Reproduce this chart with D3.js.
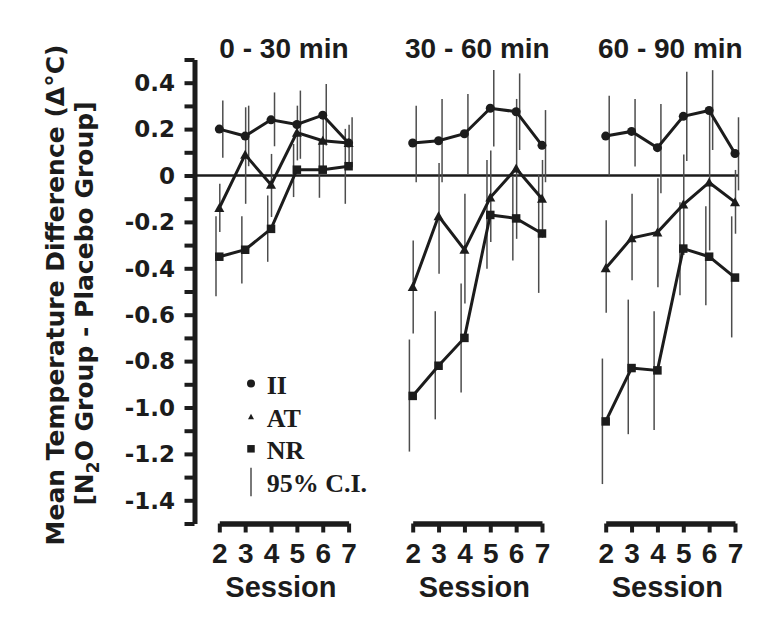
<!DOCTYPE html>
<html>
<head>
<meta charset="utf-8">
<script src="https://cdn.jsdelivr.net/npm/d3@7"></script>
<style>
  html, body { margin: 0; padding: 0; background: #fff; }
  svg { display: block; }
</style>
</head>
<body>
<svg id="chart" width="771" height="621"></svg>
<script>
// ---------------- DATA ----------------
const sessions = [2, 3, 4, 5, 6, 7];
const periods = ["0 - 30 min", "30 - 60 min", "60 - 90 min"];
const yTickValues = [0.4, 0.2, 0, -0.2, -0.4, -0.6, -0.8, -1.0, -1.2, -1.4];
const yTickLabels = ["0.4", "0.2", "0", "-0.2", "-0.4", "-0.6", "-0.8", "-1.0", "-1.2", "-1.4"];
const legendLabels = ["II", "AT", "NR", "95% C.I."];

// Means per period (rows) and session (columns)
const iiMean = [
  [0.20, 0.17, 0.24, 0.22, 0.26, 0.14],
  [0.14, 0.15, 0.18, 0.29, 0.275, 0.13],
  [0.17, 0.19, 0.12, 0.255, 0.28, 0.095]
];
const iiLow = [
  [0.076, 0.04, 0.126, 0.072, 0.129, 0.036],
  [-0.029, -0.029, 0.007, 0.125, 0.11, -0.029],
  [0.0, 0.039, -0.076, 0.062, 0.11, -0.064]
];
const iiHigh = [
  [0.323, 0.301, 0.358, 0.366, 0.394, 0.251],
  [0.301, 0.33, 0.351, 0.455, 0.44, 0.282],
  [0.344, 0.33, 0.308, 0.447, 0.454, 0.251]
];

const atMean = [
  [-0.14, 0.09, -0.04, 0.185, 0.15, 0.14],
  [-0.48, -0.175, -0.32, -0.095, 0.03, -0.10],
  [-0.40, -0.27, -0.245, -0.125, -0.03, -0.115]
];
const atLow = [
  [-0.243, -0.122, -0.179, 0.065, 0.036, 0.057],
  [-0.681, -0.423, -0.552, -0.287, -0.273, -0.268],
  [-0.592, -0.452, -0.482, -0.343, -0.323, -0.251]
];
const atHigh = [
  [-0.036, 0.294, 0.093, 0.301, 0.265, 0.219],
  [-0.280, 0.054, -0.079, 0.108, 0.330, 0.067],
  [-0.193, -0.079, -0.012, 0.090, 0.265, 0.024]
];

const nrMean = [
  [-0.35, -0.32, -0.23, 0.025, 0.025, 0.04],
  [-0.95, -0.82, -0.70, -0.17, -0.185, -0.25],
  [-1.06, -0.83, -0.84, -0.315, -0.35, -0.44]
];
const nrLow = [
  [-0.520, -0.466, -0.372, -0.093, -0.096, -0.122],
  [-1.190, -1.051, -0.935, -0.402, -0.366, -0.506],
  [-1.330, -1.115, -1.097, -0.516, -0.559, -0.698]
];
const nrHigh = [
  [-0.176, -0.176, -0.086, 0.136, 0.150, 0.201],
  [-0.707, -0.585, -0.466, 0.067, -0.007, 0.004],
  [-0.789, -0.535, -0.585, -0.115, -0.133, -0.176]
];

// ---------------- LAYOUT / STYLE ----------------
const panelLeft = [219.3, 412.7, 605.7];
const panelWidth = 129.3;
const axisX = 194.5;
const yTop = 59.5, yBottom = 523.5;
const ink = "#1c1c1c";
const barColor = "#4d4d4d";
const sansDV = "'DejaVu Sans', sans-serif";
const sansLib = "'Liberation Sans', Arial, sans-serif";
const serif = "'Liberation Serif', 'Times New Roman', serif";

const svg = d3.select("#chart");

const y = d3.scaleLinear().domain([-1.5, 0.5]).range([yBottom, yTop]);

const series = [
  { name: "II", mean: iiMean, low: iiLow, high: iiHigh, shape: "circle", barOffset: 3.5 },
  { name: "AT", mean: atMean, low: atLow, high: atHigh, shape: "triangle", barOffset: 0.5 },
  { name: "NR", mean: nrMean, low: nrLow, high: nrHigh, shape: "square", barOffset: -3.3 }
];

function drawMarker(g, shape, cx, cy, s) {
  if (shape === "circle") {
    g.append("circle").attr("cx", cx).attr("cy", cy).attr("r", s / 2).attr("fill", ink);
  } else if (shape === "square") {
    g.append("rect").attr("x", cx - s / 2).attr("y", cy - s / 2).attr("width", s).attr("height", s).attr("fill", ink);
  } else {
    const h = s * 0.9;
    g.append("path")
      .attr("d", `M${cx},${cy - h * 0.55}L${cx + s / 2},${cy + h * 0.45}L${cx - s / 2},${cy + h * 0.45}Z`)
      .attr("fill", ink);
  }
}

// ---------------- Y AXIS ----------------
const yAxis = d3.axisLeft(y)
  .tickValues(d3.range(-15, 6).map(d => d / 10))
  .tickSize(10)
  .tickSizeOuter(0)
  .tickFormat("");
const yg = svg.append("g").attr("transform", `translate(${axisX},0)`).call(yAxis);
yg.select(".domain").attr("stroke", ink).attr("stroke-width", 5);
yg.selectAll(".tick line").attr("stroke", ink).attr("stroke-width", 4);

svg.append("g").selectAll("text")
  .data(yTickValues)
  .join("text")
  .attr("x", 175)
  .attr("y", d => y(d))
  .attr("dy", "0.36em")
  .attr("text-anchor", "end")
  .attr("font-family", sansDV)
  .attr("font-weight", "bold")
  .attr("font-size", 23)
  .attr("fill", ink)
  .text((d, i) => yTickLabels[i]);

// zero line
svg.append("line")
  .attr("x1", axisX).attr("x2", 738)
  .attr("y1", y(0)).attr("y2", y(0))
  .attr("stroke", ink).attr("stroke-width", 2.5);

// y axis title
const yl1 = svg.append("text")
  .attr("transform", `translate(64,295) rotate(-90)`)
  .attr("text-anchor", "middle")
  .attr("font-family", sansDV).attr("font-weight", "bold").attr("font-size", 25).attr("fill", ink)
  .text("Mean Temperature Difference (\u0394\u00B0C)");
const yl2 = svg.append("text")
  .attr("transform", `translate(93,303.5) rotate(-90)`)
  .attr("text-anchor", "middle")
  .attr("font-family", sansDV).attr("font-weight", "bold").attr("font-size", 25).attr("fill", ink);
yl2.append("tspan").text("[N");
yl2.append("tspan").attr("font-size", 17).attr("dy", 6).text("2");
yl2.append("tspan").attr("dy", -6).text("O Group - Placebo Group]");

// ---------------- PANELS ----------------
periods.forEach((period, p) => {
  const x = d3.scaleLinear().domain([2, 7]).range([panelLeft[p], panelLeft[p] + panelWidth]);
  const g = svg.append("g");

  // title
  g.append("text")
    .attr("x", panelLeft[p] + panelWidth / 2)
    .attr("y", 58)
    .attr("text-anchor", "middle")
    .attr("font-family", sansLib).attr("font-weight", "bold").attr("font-size", 28).attr("fill", ink)
    .text(period);

  // x axis
  const xAxis = d3.axisBottom(x).tickValues(sessions).tickSize(9).tickSizeOuter(0).tickFormat(d3.format("d"));
  const xg = g.append("g").attr("transform", `translate(0,${yBottom})`).call(xAxis);
  xg.select(".domain").attr("stroke", ink).attr("stroke-width", 5.5);
  xg.selectAll(".tick line").attr("stroke", ink).attr("stroke-width", 4);
  xg.selectAll(".tick text")
    .attr("y", 39.5).attr("dy", 0)
    .attr("font-family", sansLib).attr("font-weight", "bold").attr("font-size", 28).attr("fill", ink);

  g.append("text")
    .attr("x", panelLeft[p] + panelWidth / 2 - 3)
    .attr("y", 597)
    .attr("text-anchor", "middle")
    .attr("font-family", sansLib).attr("font-weight", "bold").attr("font-size", 29).attr("fill", ink)
    .text("Session");

  // error bars
  series.forEach(s => {
    g.append("g").selectAll("line")
      .data(sessions)
      .join("line")
      .attr("x1", (d, i) => x(d) + s.barOffset)
      .attr("x2", (d, i) => x(d) + s.barOffset)
      .attr("y1", (d, i) => y(s.low[p][i]))
      .attr("y2", (d, i) => y(s.high[p][i]))
      .attr("stroke", barColor).attr("stroke-width", 1.5);
  });

  // lines
  const line = d3.line().x(d => x(d[0])).y(d => y(d[1]));
  series.forEach(s => {
    g.append("path")
      .datum(sessions.map((d, i) => [d, s.mean[p][i]]))
      .attr("d", line)
      .attr("fill", "none")
      .attr("stroke", ink).attr("stroke-width", 3)
      .attr("stroke-linejoin", "miter");
  });

  // markers
  series.forEach(s => {
    const mg = g.append("g");
    sessions.forEach((d, i) => {
      const size = s.shape === "circle" ? 9 : (s.shape === "square" ? 8.5 : 10);
      drawMarker(mg, s.shape, x(d), y(s.mean[p][i]), size);
    });
  });
});

// ---------------- LEGEND ----------------
const legendX = 251, legendTextX = 266.7;
const legendBaselines = [394, 427.3, 459.3, 491.7];
const lg = svg.append("g");
drawMarker(lg, "circle", legendX, legendBaselines[0] - 10.5, 8);
drawMarker(lg, "triangle", legendX, legendBaselines[1] - 10.5, 6);
drawMarker(lg, "square", legendX, legendBaselines[2] - 10.5, 7.5);
lg.append("line")
  .attr("x1", legendX).attr("x2", legendX)
  .attr("y1", legendBaselines[3] - 24).attr("y2", legendBaselines[3] + 4.5)
  .attr("stroke", barColor).attr("stroke-width", 1.5);
lg.selectAll("text")
  .data(legendLabels)
  .join("text")
  .attr("x", legendTextX)
  .attr("y", (d, i) => legendBaselines[i])
  .attr("font-family", serif).attr("font-weight", "bold").attr("font-size", 26).attr("fill", ink)
  .text(d => d);
</script>
</body>
</html>
